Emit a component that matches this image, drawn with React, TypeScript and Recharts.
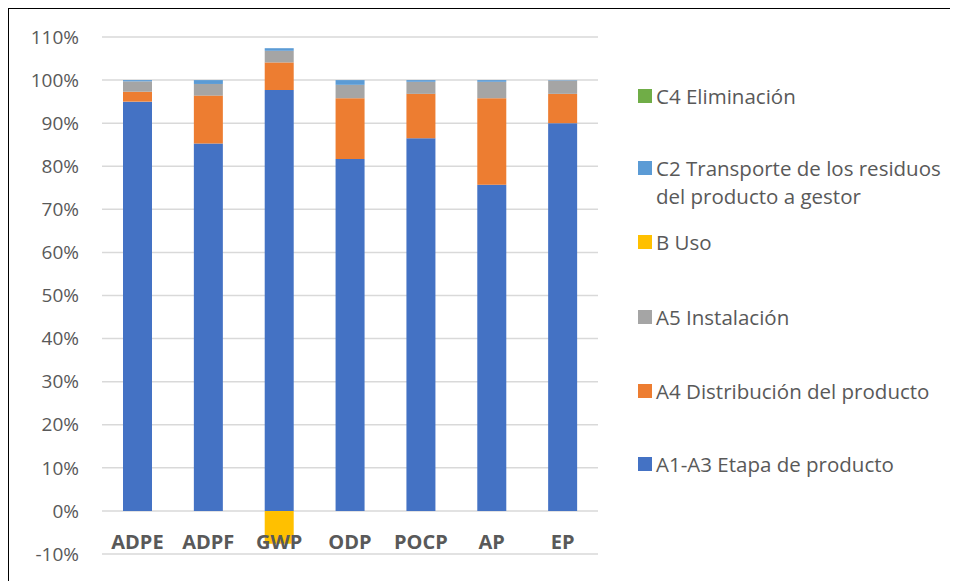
import { Bar, BarChart, CartesianGrid, Legend, XAxis, YAxis } from 'recharts';

const categories = ['ADPE', 'ADPF', 'GWP', 'ODP', 'POCP', 'AP', 'EP'];
const a1a3 = [95.0, 85.3, 97.7, 81.7, 86.5, 75.7, 90.0];
const a4 = [2.3, 11.1, 6.4, 14.1, 10.3, 20.1, 6.8];
const a5 = [2.4, 2.7, 2.7, 3.1, 2.8, 3.8, 3.1];
const bUso = [0, 0, -7.6, 0, 0, 0, 0];
const c2 = [0.3, 0.9, 0.6, 1.1, 0.4, 0.4, 0.1];
const c4 = [0, 0, 0, 0, 0, 0, 0];
const yTicks = [-10, 0, 10, 20, 30, 40, 50, 60, 70, 80, 90, 100, 110];

const series = [
  { key: 'a1a3', name: 'A1-A3 Etapa de producto', color: '#4472C4', values: a1a3 },
  { key: 'a4', name: 'A4 Distribución del producto', color: '#ED7D31', values: a4 },
  { key: 'a5', name: 'A5 Instalación', color: '#A5A5A5', values: a5 },
  { key: 'b', name: 'B Uso', color: '#FFC000', values: bUso },
  { key: 'c2', name: 'C2 Transporte de los residuos\ndel producto a gestor', color: '#5B9BD5', values: c2 },
  { key: 'c4', name: 'C4 Eliminación', color: '#70AD47', values: c4 },
];

const data = categories.map((cat, i) => {
  const row: Record<string, string | number> = { cat };
  series.forEach((s) => {
    row[s.key] = s.values[i];
  });
  return row;
});

const FONT = '"Open Sans", Lato, sans-serif';
const TEXT = '#595959';

// gap above each legend entry, top to bottom (C4 ... A1-A3)
const legendGaps = [0, 44, 18, 47, 46, 45];

const CatTick = ({ x, y, payload }: any) => (
  <text x={x} y={y - 13} textAnchor="middle" dominantBaseline="central" fill={TEXT} fontSize={20} fontWeight={700} fontFamily={FONT}>
    {payload.value}
  </text>
);

const LegendBox = () => {
  const items = [...series].reverse();
  return (
    <div style={{ fontFamily: FONT, fontSize: 20.5, color: TEXT, lineHeight: '28px' }}>
      {items.map((s, i) => (
        <div key={s.key} style={{ display: 'flex', alignItems: 'flex-start', marginTop: legendGaps[i] }}>
          <span style={{ width: 14, height: 14, background: s.color, marginTop: 7, marginRight: 4, flexShrink: 0 }} />
          <span style={{ whiteSpace: 'pre-line' }}>{s.name}</span>
        </div>
      ))}
    </div>
  );
};

export default function App() {
  return (
    <div
      style={{
        width: 950,
        height: 573,
        boxSizing: 'border-box',
        borderTop: '1.5px solid #000',
        borderLeft: '1.5px solid #000',
        background: '#fff',
        position: 'relative',
      }}
    >
      <BarChart
        width={948}
        height={571}
        data={data}
        stackOffset="sign"
        barSize={29}
        margin={{ top: 28, right: 39, bottom: 0, left: 0 }}
      >
        <CartesianGrid vertical={false} stroke="#D9D9D9" strokeWidth={1.5} />
        <XAxis
          dataKey="cat"
          axisLine={false}
          tickLine={false}
          tickSize={0}
          tickMargin={0}
          height={26}
          interval={0}
          tick={<CatTick />}
        />
        <YAxis
          width={93}
          domain={[-10, 110]}
          ticks={yTicks}
          interval={0}
          axisLine={false}
          tickLine={false}
          tickSize={0}
          tickMargin={23}
          tickFormatter={(v: number) => `${v}%`}
          tick={{ fill: TEXT, fontSize: 19, fontFamily: FONT }}
        />
        <Legend
          layout="vertical"
          align="right"
          verticalAlign="middle"
          content={<LegendBox />}
          wrapperStyle={{ left: 629, top: 73, width: 320 }}
        />
        {series.map((s) => (
          <Bar key={s.key} dataKey={s.key} name={s.name} stackId="a" fill={s.color} isAnimationActive={false} />
        ))}
      </BarChart>
    </div>
  );
}
